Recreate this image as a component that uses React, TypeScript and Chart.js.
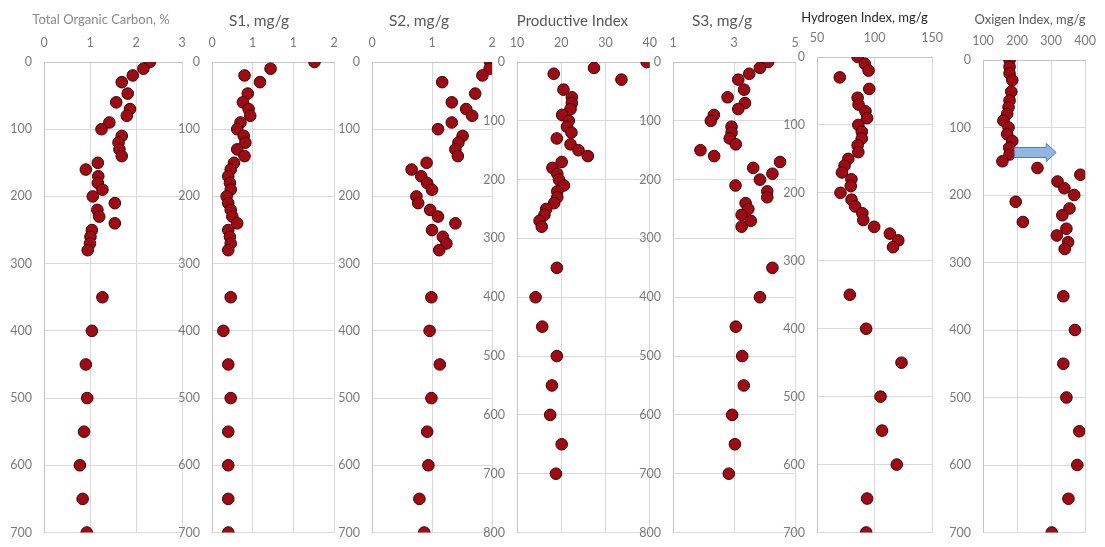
import React, { useEffect, useRef } from 'react';
import { Chart, registerables } from 'chart.js';

Chart.register(...registerables);

// ---- data (depth is shared by every panel) ----
const DEPTH = [0, 10, 20, 30, 47, 60, 70, 80, 90, 100, 110, 120, 130, 140, 150, 160, 170, 180, 190, 200, 210, 220, 230, 240, 250, 260, 270, 280, 350, 400, 450, 500, 550, 600, 650, 700];
const TOC = [2.30, 2.16, 1.93, 1.69, 1.82, 1.57, 1.87, 1.80, 1.42, 1.25, 1.69, 1.62, 1.64, 1.69, 1.17, 0.91, 1.18, 1.17, 1.27, 1.06, 1.54, 1.16, 1.20, 1.54, 1.04, 1.01, 1.00, 0.95, 1.27, 1.04, 0.91, 0.94, 0.87, 0.78, 0.84, 0.93];
const S1 = [1.26, 0.72, 0.40, 0.59, 0.44, 0.38, 0.45, 0.47, 0.35, 0.31, 0.39, 0.41, 0.31, 0.40, 0.27, 0.23, 0.20, 0.22, 0.23, 0.18, 0.20, 0.23, 0.25, 0.31, 0.20, 0.22, 0.23, 0.20, 0.23, 0.14, 0.20, 0.23, 0.20, 0.20, 0.20, 0.20];
const S2 = [1.97, 1.96, 1.84, 1.17, 1.72, 1.33, 1.57, 1.67, 1.33, 1.10, 1.51, 1.44, 1.39, 1.43, 0.91, 0.66, 0.82, 0.92, 1.00, 0.74, 0.77, 0.97, 1.10, 1.39, 1.00, 1.18, 1.24, 1.12, 0.99, 0.96, 1.13, 0.99, 0.92, 0.94, 0.79, 0.87];
const PI = [39.3, 27.4, 18.3, 33.6, 20.5, 22.4, 22.4, 22.1, 20.2, 21.7, 21.3, 22.3, 19.0, 22.1, 23.9, 26.0, 20.1, 18.0, 19.1, 19.5, 20.6, 19.1, 19.1, 18.4, 16.6, 16.2, 15.1, 15.6, 19.0, 14.2, 15.7, 19.0, 17.9, 17.5, 20.1, 18.8];
const S3 = [4.12, 3.85, 3.50, 3.14, 3.33, 2.79, 3.36, 3.14, 2.34, 2.24, 2.92, 2.92, 2.86, 3.06, 1.90, 2.35, 4.51, 3.63, 4.26, 3.85, 3.05, 4.09, 4.09, 3.38, 3.47, 3.25, 3.55, 3.25, 4.26, 3.85, 3.06, 3.27, 3.32, 2.94, 3.03, 2.83];
const HI = [85.3, 91.6, 94.8, 69.8, 95.4, 85.3, 86.1, 92.1, 93.5, 85.9, 88.9, 88.9, 85.3, 85.9, 77.2, 73.9, 71.7, 79.9, 79.3, 70.4, 80.0, 83.1, 89.4, 90.2, 99.7, 113.3, 120.6, 116.0, 78.5, 92.7, 123.4, 105.2, 106.5, 119.3, 93.5, 92.7];
const OI = [178, 178, 178, 186, 183, 178, 175, 171, 160, 175, 171, 186, 177, 178, 157, 260, 386, 319, 339, 368, 196, 354, 333, 217, 345, 317, 350, 340, 336, 370, 336, 345, 383, 377, 351, 302];

// arrow annotation on the Oxigen Index panel (data units)
const ARROW_FROM = 192;
const ARROW_TO = 315;
const ARROW_DEPTH = 137;

const FONT = 'Lato, "Open Sans", sans-serif';
const TICK_COLOR = '#7a7a7a';
const GRID = '#d9d9d9';
const AXIS = '#c4c4c4';

type PanelCfg = {
  key: string;
  title: string;
  values: number[];
  xMin: number;
  xMax: number;
  xStep: number;
  yMax: number;
  l: number;
  r: number;
  t: number;
  b: number;
  tdx: number;
  ty: number;
  tSize: number;
  tColor: string;
  round?: boolean;
  arrow?: boolean;
};

const PANELS: PanelCfg[] = [
  { key: 'toc', title: 'Total Organic Carbon, %', values: TOC, xMin: 0, xMax: 3, xStep: 1, yMax: 700, l: 44, r: 182, t: 62, b: 540, tdx: -12, ty: 20, tSize: 13, tColor: '#8a8a8a' },
  { key: 's1', title: 'S1, mg/g', values: S1, xMin: 0, xMax: 1.5, xStep: 0.5, yMax: 700, l: 212, r: 334, t: 62, b: 540, tdx: -14, ty: 21, tSize: 15.5, tColor: '#595959', round: true },
  { key: 's2', title: 'S2, mg/g', values: S2, xMin: 0, xMax: 2, xStep: 1, yMax: 700, l: 372, r: 492, t: 62, b: 540, tdx: -13, ty: 21, tSize: 15.5, tColor: '#595959' },
  { key: 'pi', title: 'Productive Index', values: PI, xMin: 10, xMax: 40, xStep: 10, yMax: 800, l: 517, r: 653, t: 62, b: 540, tdx: -11, ty: 21, tSize: 15, tColor: '#595959' },
  { key: 's3', title: 'S3, mg/g', values: S3, xMin: 1, xMax: 5, xStep: 2, yMax: 800, l: 673, r: 795, t: 62, b: 540, tdx: -12, ty: 21, tSize: 15.5, tColor: '#595959' },
  { key: 'hi', title: 'Hydrogen Index, mg/g', values: HI, xMin: 50, xMax: 150, xStep: 50, yMax: 700, l: 817, r: 939, t: 57, b: 540, tdx: -10, ty: 18, tSize: 13, tColor: '#262626' },
  { key: 'oi', title: 'Oxigen Index, mg/g', values: OI, xMin: 100, xMax: 400, xStep: 100, yMax: 700, l: 983, r: 1092, t: 60, b: 540, tdx: -4, ty: 20, tSize: 13, tColor: '#595959', arrow: true },
];

const YW = 40;
const RP = 16;
const H = 552;

const panelTitle = {
  id: 'panelTitle',
  afterDraw(chart: any, _args: any, opts: any) {
    const { ctx, chartArea } = chart;
    ctx.save();
    ctx.font = `${opts.size}px ${FONT}`;
    ctx.fillStyle = opts.color;
    ctx.textAlign = 'center';
    ctx.textBaseline = 'middle';
    ctx.fillText(opts.text, (chartArea.left + chartArea.right) / 2 + opts.dx, opts.y);
    ctx.restore();
  },
};

const arrowPlugin = {
  id: 'arrowNote',
  afterDatasetsDraw(chart: any) {
    const xs = chart.scales.x;
    const ys = chart.scales.y;
    const x0 = xs.getPixelForValue(ARROW_FROM);
    const x1 = xs.getPixelForValue(ARROW_TO);
    const yc = ys.getPixelForValue(ARROW_DEPTH);
    const bh = 5;
    const hh = 9;
    const hl = 10;
    const ctx = chart.ctx;
    ctx.save();
    ctx.beginPath();
    ctx.moveTo(x0, yc - bh);
    ctx.lineTo(x1 - hl, yc - bh);
    ctx.lineTo(x1 - hl, yc - hh);
    ctx.lineTo(x1, yc);
    ctx.lineTo(x1 - hl, yc + hh);
    ctx.lineTo(x1 - hl, yc + bh);
    ctx.lineTo(x0, yc + bh);
    ctx.closePath();
    ctx.fillStyle = '#93b6e0';
    ctx.fill();
    ctx.lineWidth = 1;
    ctx.strokeStyle = '#4a7ebb';
    ctx.stroke();
    ctx.restore();
  },
};

function Panel({ cfg }: { cfg: PanelCfg }) {
  const ref = useRef<HTMLCanvasElement | null>(null);
  const W = cfg.r - cfg.l + YW + RP;
  useEffect(() => {
    if (!ref.current) return;
    const chart = new Chart(ref.current, {
      type: 'scatter',
      data: {
        datasets: [
          {
            data: DEPTH.map((d, i) => ({ x: cfg.values[i], y: d })),
            backgroundColor: '#9e0b14',
            borderColor: '#3f0000',
            borderWidth: 1,
            pointRadius: 5.8,
            pointHoverRadius: 5.8,
          },
        ],
      },
      options: {
        responsive: false,
        maintainAspectRatio: false,
        animation: false,
        devicePixelRatio: 1,
        events: [],
        layout: { padding: { left: 0, right: RP, top: 0, bottom: H - cfg.b } },
        plugins: {
          legend: { display: false },
          tooltip: { enabled: false },
          title: { display: false },
          panelTitle: { text: cfg.title, size: cfg.tSize, color: cfg.tColor, dx: cfg.tdx, y: cfg.ty },
        } as any,
        scales: {
          x: {
            type: 'linear',
            position: 'top',
            min: cfg.xMin,
            max: cfg.xMax,
            ticks: {
              stepSize: cfg.xStep,
              autoSkip: false,
              maxRotation: 0,
              padding: 12,
              color: TICK_COLOR,
              font: { family: FONT, size: 12.5 },
              callback: (v: any) => (cfg.round ? String(Math.round(Number(v))) : String(v)),
            },
            grid: { color: GRID, drawTicks: false },
            border: { color: AXIS },
            afterFit: (s: any) => {
              s.height = cfg.t;
            },
          },
          y: {
            type: 'linear',
            reverse: true,
            min: 0,
            max: cfg.yMax,
            ticks: {
              stepSize: 100,
              padding: 12,
              color: TICK_COLOR,
              font: { family: FONT, size: 12.5 },
            },
            grid: { color: GRID, drawTicks: false },
            border: { color: AXIS },
            afterFit: (s: any) => {
              s.width = YW;
            },
          },
        },
      },
      plugins: cfg.arrow ? [panelTitle, arrowPlugin] : [panelTitle],
    } as any);
    return () => chart.destroy();
  }, [cfg]);
  return (
    <canvas
      ref={ref}
      width={W}
      height={H}
      style={{ position: 'absolute', left: cfg.l - YW, top: 0, width: W, height: H }}
    />
  );
}

export default function App() {
  return (
    <div
      style={{
        position: 'fixed',
        left: 0,
        top: 0,
        width: 1105,
        height: 547,
        overflow: 'hidden',
        background: '#ffffff',
      }}
    >
      {PANELS.map((p) => (
        <Panel key={p.key} cfg={p} />
      ))}
    </div>
  );
}
